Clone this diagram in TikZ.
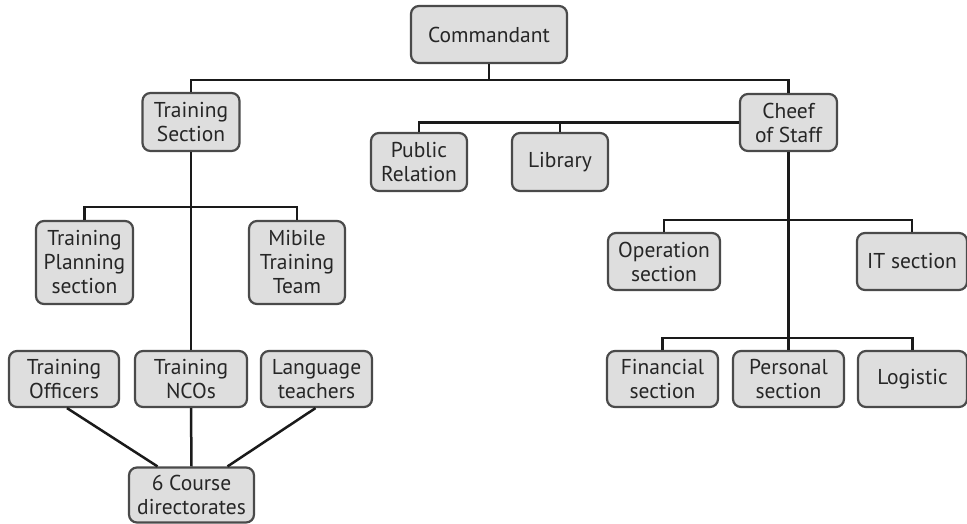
\documentclass[tikz,border=0pt]{standalone}
\usepackage{fontspec}
\setmainfont{PT Sans}
\usetikzlibrary{calc}
\definecolor{boxfill}{HTML}{DEDEDE}
\definecolor{boxdraw}{HTML}{4A4A4A}
\definecolor{linecol}{HTML}{1A1A1A}
\tikzset{
  orgbox/.style={draw=boxdraw, fill=boxfill, line width=2.2pt, rounded corners=8pt,
    align=center, inner sep=0pt, font=\fontsize{21.5}{24}\selectfont, text=black!85},
  conn/.style={draw=linecol, line width=2.5pt},
}
\begin{document}
\begin{tikzpicture}[x=1pt,y=-1pt]
\useasboundingbox (0,0) rectangle (967,523);
\node[orgbox, minimum width=156pt, minimum height=57pt] (cmd) at (489,34.5) {Commandant};
\node[orgbox, minimum width=97pt, minimum height=58pt] (ts) at (191,122) {Training\\Section};
\node[orgbox, minimum width=97pt, minimum height=57pt] (cos) at (788.5,122.5) {Cheef\\of Staff};
\node[orgbox, minimum width=96pt, minimum height=58pt] (pr) at (419,162) {Public\\Relation};
\node[orgbox, minimum width=96pt, minimum height=58pt] (lib) at (560,162) {Library};
\node[orgbox, minimum width=97pt, minimum height=83pt] (tps) at (84.5,262.5) {Training\\Planning\\section};
\node[orgbox, minimum width=96pt, minimum height=83pt] (mtt) at (297,262.5) {Mibile\\Training\\Team};
\node[orgbox, minimum width=110pt, minimum height=56pt] (to) at (64,379) {Training\\Officers};
\node[orgbox, minimum width=112pt, minimum height=56pt] (tn) at (191,379) {Training\\NCOs};
\node[orgbox, minimum width=111pt, minimum height=56pt] (lt) at (316.5,379) {Language\\teachers};
\node[orgbox, minimum width=125pt, minimum height=55pt] (cd) at (191.5,495) {6 Course\\directorates};
\node[orgbox, minimum width=112pt, minimum height=57pt] (ops) at (664,261.5) {Operation\\section};
\node[orgbox, minimum width=110pt, minimum height=57pt] (its) at (912,261.5) {IT section};
\node[orgbox, minimum width=111pt, minimum height=56pt] (fin) at (662.5,379) {Financial\\section};
\node[orgbox, minimum width=111pt, minimum height=56pt] (per) at (788.5,379) {Personal\\section};
\node[orgbox, minimum width=109pt, minimum height=56pt] (log) at (912.5,379) {Logistic};

\coordinate (bus1) at (489,80);
\coordinate (bus2) at (191,207);
\coordinate (bus3) at (788,220);
\coordinate (bus4) at (788,338);

\draw[conn] (cmd.south) -- (bus1);
\draw[conn] (ts.north) |- (bus1) -| (cos.north);
\draw[conn] (pr.north) |- (cos.west);
\draw[conn] (lib.north) -- (lib.north |- cos.west);
\draw[conn] (ts.south) -- (tn.north);
\draw[conn] (tps.north) |- (bus2) -| (mtt.north);
\draw[conn] ($(to.south)+(3,0)$) -- ($(cd.north)+(-34,0)$);
\draw[conn] (tn.south) -- (cd.north);
\draw[conn] ($(lt.south)+(-1,0)$) -- ($(cd.north)+(36,0)$);
\draw[conn] (cos.south) -- (per.north);
\draw[conn] (ops.north) |- (bus3) -| (its.north);
\draw[conn] (fin.north) |- (bus4) -| (log.north);
\end{tikzpicture}
\end{document}
